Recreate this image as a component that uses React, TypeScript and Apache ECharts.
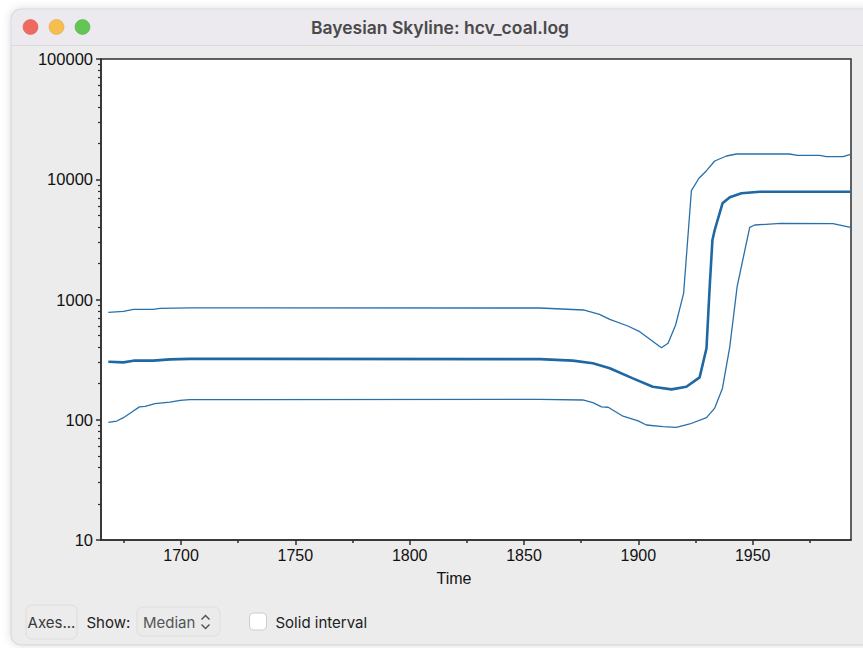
import React, { useEffect, useRef } from "react";
import * as echarts from "echarts";

const title = "Bayesian Skyline: hcv_coal.log";
const xAxisName = "Time";

const xMajorTicks = [1700, 1750, 1800, 1850, 1900, 1950];
const xMinorTicks = [1675, 1725, 1775, 1825, 1875, 1925, 1975];
const yMajorTicks = [10, 100, 1000, 10000, 100000];
const yMinorTicks = [
  20, 30, 40, 50, 60, 70, 80, 90,
  200, 300, 400, 500, 600, 700, 800, 900,
  2000, 3000, 4000, 5000, 6000, 7000, 8000, 9000,
  20000, 30000, 40000, 50000, 60000, 70000, 80000, 90000,
];

const upperYears = [1668.2, 1674.8, 1679.2, 1687.9, 1690.8, 1703.9, 1857, 1876, 1883, 1887.5, 1895.4, 1900.6, 1910.1, 1913, 1916.3, 1919.8, 1923.2, 1926.5, 1929.8, 1933.4, 1938.5, 1942.9, 1966.1, 1969.6, 1979.3, 1982.2, 1989.5, 1992.8];
const upperValues = [782, 798, 829, 829, 845, 852, 850, 818, 753, 684, 602, 540, 397, 432, 614, 1126, 8050, 10200, 11780, 14180, 15610, 16220, 16220, 15820, 15820, 15400, 15400, 16100];

const medianYears = [1668.2, 1674.8, 1679.2, 1687.9, 1695.2, 1703.9, 1857, 1871.3, 1880.1, 1887.5, 1897.6, 1906.3, 1914.5, 1921, 1926.8, 1929.8, 1931.2, 1932.4, 1933.4, 1936.8, 1940, 1945.1, 1953.1, 1992.8];
const medianValues = [304, 300, 310, 310, 318, 321, 319, 310, 295, 268, 221, 188, 179, 188, 225, 393, 1277, 3124, 3784, 6310, 7078, 7643, 7880, 7880];

const lowerYears = [1668.2, 1671.9, 1674.8, 1678.5, 1681.8, 1684.3, 1688.6, 1695.2, 1699.6, 1703.9, 1857, 1875.7, 1880.1, 1883.9, 1886.8, 1893.3, 1899.9, 1903.5, 1910.8, 1916.6, 1922.5, 1929.8, 1933.4, 1936.8, 1940, 1943.2, 1948.7, 1950.9, 1962.2, 1985.1, 1992.8];
const lowerValues = [95, 97.6, 104, 116, 128, 129, 136, 140, 145, 147, 148, 146, 139, 128, 127, 107, 98, 90.4, 87.5, 86.5, 92.2, 104, 125, 183, 405, 1277, 3985, 4163, 4300, 4280, 3985];

const zip = (xs: number[], ys: number[]) => xs.map((x, i) => [x, ys[i]]);

const LINE = "#2870aa";
const CHART_FONT = "Liberation Sans";
const UI_FONT = "Inter";

export default function App() {
  const ref = useRef<HTMLDivElement>(null);
  useEffect(() => {
    if (!ref.current) return;
    const chart = echarts.init(ref.current, undefined, { renderer: "svg" });
    const option: any = {
      animation: false,
      backgroundColor: "#ffffff",
      grid: {
        left: 101,
        right: 12,
        top: 59,
        bottom: 108,
        show: true,
        backgroundColor: "#ffffff",
        borderColor: "#2e2e2e",
        borderWidth: 1.5,
      },
      xAxis: [
        {
          type: "value",
          min: 1665,
          max: 1993,
          axisLine: { show: true, lineStyle: { color: "#2e2e2e", width: 1.5 } },
          axisTick: { show: true, length: 5, customValues: xMajorTicks, lineStyle: { color: "#2e2e2e", width: 1.5 } },
          axisLabel: {
            show: true,
            customValues: xMajorTicks,
            color: "#111",
            fontSize: 16,
            fontFamily: CHART_FONT,
            margin: 7,
            formatter: (v: number) => String(Math.round(v)),
          },
          splitLine: { show: false },
        },
        {
          type: "value",
          min: 1665,
          max: 1993,
          position: "bottom",
          axisLine: { show: false },
          axisTick: { show: true, length: 3, customValues: xMinorTicks, lineStyle: { color: "#2e2e2e", width: 1.5 } },
          axisLabel: { show: false },
          splitLine: { show: false },
        },
      ],
      yAxis: [
        {
          type: "log",
          logBase: 10,
          min: 10,
          max: 100000,
          axisLine: { show: true, lineStyle: { color: "#2e2e2e", width: 1.5 } },
          axisTick: { show: true, length: 5, customValues: yMajorTicks, lineStyle: { color: "#2e2e2e", width: 1.5 } },
          axisLabel: {
            show: true,
            customValues: yMajorTicks,
            color: "#111",
            fontSize: 16.5,
            fontFamily: CHART_FONT,
            margin: 8,
            formatter: (v: number) => String(Math.round(v)),
          },
          splitLine: { show: false },
        },
        {
          type: "log",
          logBase: 10,
          min: 10,
          max: 100000,
          position: "left",
          axisLine: { show: false },
          axisTick: { show: true, length: 3, customValues: yMinorTicks, lineStyle: { color: "#2e2e2e", width: 1.2 } },
          axisLabel: { show: false },
          splitLine: { show: false },
        },
      ],
      series: [
        {
          type: "line",
          name: "upper",
          data: zip(upperYears, upperValues),
          showSymbol: false,
          lineStyle: { color: LINE, width: 1.3 },
          z: 3,
        },
        {
          type: "line",
          name: "median",
          data: zip(medianYears, medianValues),
          showSymbol: false,
          lineStyle: { color: "#1f68a3", width: 2.6 },
          z: 4,
        },
        {
          type: "line",
          name: "lower",
          data: zip(lowerYears, lowerValues),
          showSymbol: false,
          lineStyle: { color: LINE, width: 1.3 },
          z: 3,
        },
      ],
      graphic: [
        {
          type: "rect",
          z: -1,
          shape: { x: 11, y: 9, width: 900, height: 636, r: 10 },
          style: { fill: "#ececec", stroke: "#d2d2d2", lineWidth: 1, shadowBlur: 8, shadowColor: "rgba(0,0,0,0.14)" },
        },
        {
          type: "rect",
          z: -1,
          shape: { x: 11.5, y: 9.5, width: 900, height: 36, r: [10, 10, 0, 0] },
          style: { fill: "#ece9ef" },
        },
        {
          type: "line",
          z: -1,
          shape: { x1: 11.5, y1: 45.5, x2: 900, y2: 45.5 },
          style: { stroke: "#d9d8dc", lineWidth: 1 },
        },
        { type: "circle", z: 10, shape: { cx: 30.5, cy: 27, r: 7.5 }, style: { fill: "#ee6a5f", stroke: "#d9574d", lineWidth: 0.5 } },
        { type: "circle", z: 10, shape: { cx: 56.5, cy: 27, r: 7.5 }, style: { fill: "#f5be4f", stroke: "#dea63c", lineWidth: 0.5 } },
        { type: "circle", z: 10, shape: { cx: 82.5, cy: 27, r: 7.5 }, style: { fill: "#62c554", stroke: "#50ad43", lineWidth: 0.5 } },
        {
          type: "text",
          z: 10,
          x: 440,
          y: 27,
          style: { text: title, fill: "#4a4a4a", font: `600 17.5px ${UI_FONT}`, textAlign: "center", textVerticalAlign: "middle" },
        },
        {
          type: "text",
          z: 10,
          x: 454,
          y: 578,
          style: { text: xAxisName, fill: "#111", font: `16px ${CHART_FONT}`, textAlign: "center", textVerticalAlign: "middle" },
        },
        {
          type: "rect",
          z: 10,
          shape: { x: 26, y: 605, width: 51, height: 34, r: 6 },
          style: { fill: "#ececec", stroke: "#dcdcdc", lineWidth: 1 },
        },
        {
          type: "text",
          z: 11,
          x: 51.5,
          y: 622,
          style: { text: "Axes...", fill: "#3a3a3a", font: `15px ${UI_FONT}`, textAlign: "center", textVerticalAlign: "middle" },
        },
        {
          type: "text",
          z: 11,
          x: 86.5,
          y: 622,
          style: { text: "Show:", fill: "#222", font: `15px ${UI_FONT}`, textAlign: "left", textVerticalAlign: "middle" },
        },
        {
          type: "rect",
          z: 10,
          shape: { x: 137, y: 607, width: 83, height: 29, r: 6 },
          style: { fill: "#ebebeb", stroke: "#dedede", lineWidth: 1 },
        },
        {
          type: "text",
          z: 11,
          x: 143,
          y: 622,
          style: { text: "Median", fill: "#555", font: `15px ${UI_FONT}`, textAlign: "left", textVerticalAlign: "middle" },
        },
        {
          type: "polyline",
          z: 11,
          shape: { points: [[201.5, 619.5], [205.5, 615.5], [209.5, 619.5]] },
          style: { stroke: "#555", lineWidth: 1.5, fill: "none" },
        },
        {
          type: "polyline",
          z: 11,
          shape: { points: [[201.5, 624.5], [205.5, 628.5], [209.5, 624.5]] },
          style: { stroke: "#555", lineWidth: 1.5, fill: "none" },
        },
        {
          type: "rect",
          z: 10,
          shape: { x: 249.5, y: 613, width: 17, height: 17, r: 4 },
          style: { fill: "#ffffff", stroke: "#cdcdcd", lineWidth: 1 },
        },
        {
          type: "text",
          z: 11,
          x: 275.5,
          y: 622,
          style: { text: "Solid interval", fill: "#222", font: `15px ${UI_FONT}`, textAlign: "left", textVerticalAlign: "middle" },
        },
      ],
    };
    chart.setOption(option);
    return () => chart.dispose();
  }, []);
  return (
    <div
      ref={ref}
      style={{ position: "fixed", left: 0, top: 0, width: 863, height: 648 }}
    />
  );
}
